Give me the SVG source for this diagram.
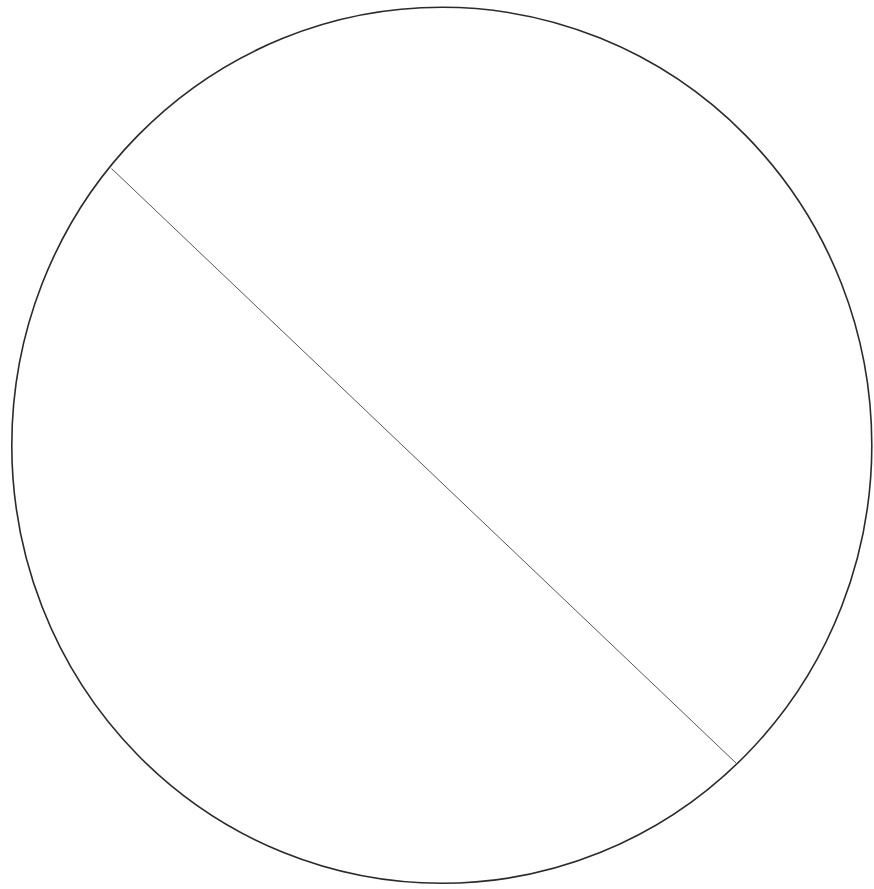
<svg xmlns="http://www.w3.org/2000/svg" width="874" height="889" viewBox="0 0 874 889">
<style>.c{fill:none;stroke:#2a2a2a;stroke-width:1.6}.l{stroke:#555;stroke-width:1;fill:none}</style>
<rect width="874" height="889" fill="#fff"/>
<g id="circle"><ellipse class="c" cx="441.8" cy="445.3" rx="430" ry="438"/></g>
<g id="connectors"><line class="l" x1="111.5" y1="168.5" x2="736" y2="763"/></g>
</svg>
